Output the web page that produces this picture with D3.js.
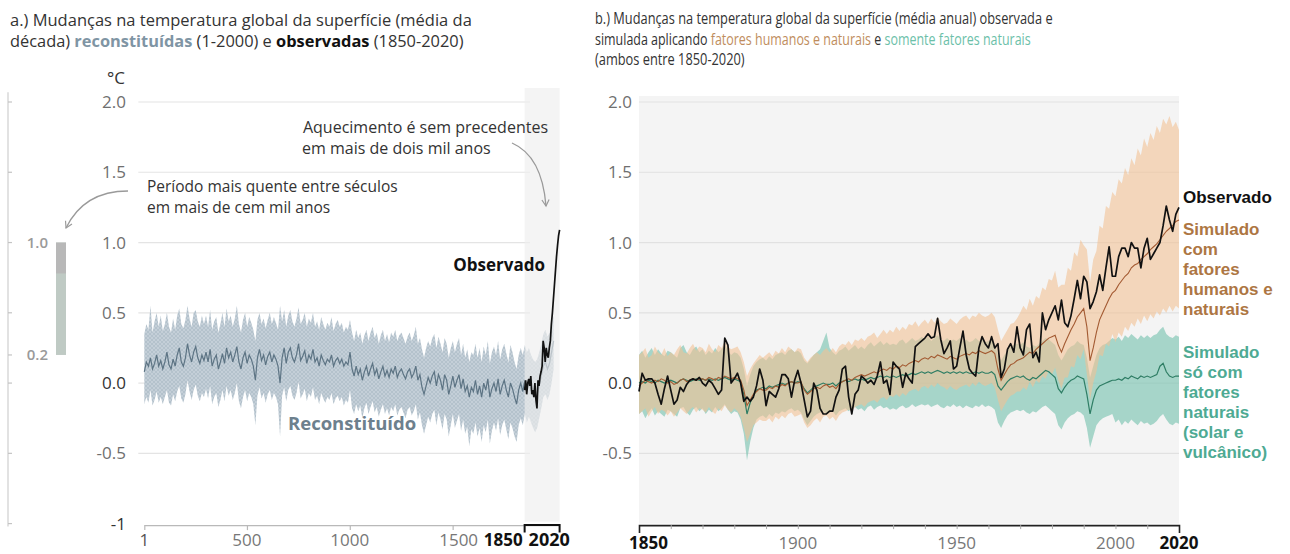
<!DOCTYPE html>
<html>
<head>
<meta charset="utf-8">
<script src="https://cdn.jsdelivr.net/npm/d3@7"></script>
<style>
  html, body { margin: 0; padding: 0; background: #fff; }
  svg { display: block; font-family: "Open Sans", "Noto Sans", sans-serif; }
</style>
</head>
<body>
<svg id="chart" width="1290" height="554"></svg>
<script>
// ---------- Panel a: reconstructed decadal means, years 1-2000 ----------
const reconYears = d3.range(1, 2000, 10);
const reconMean = [
  0.08,0.15,0.12,0.18,0.10,0.14,0.20,0.12,0.16,0.10,
  0.15,0.22,0.13,0.10,0.17,0.12,0.20,0.25,0.15,0.12,
  0.18,0.28,0.20,0.15,0.22,0.26,0.18,0.14,0.20,0.16,
  0.22,0.15,0.24,0.12,0.17,0.20,0.10,0.15,0.21,0.14,
  0.25,0.18,0.22,0.15,0.20,0.26,0.15,0.10,0.18,0.22,
  0.14,0.20,0.17,0.12,0.02,0.18,0.24,0.16,0.20,0.13,
  0.19,0.22,0.15,0.20,0.17,0.12,0.00,0.18,0.25,0.14,
  0.22,0.25,0.18,0.15,0.20,0.28,0.16,0.19,0.23,0.14,
  0.20,0.17,0.24,0.15,0.18,0.12,0.20,0.16,0.13,0.17,
  0.15,0.20,0.12,0.16,0.18,0.14,0.17,0.12,0.15,0.13,
  0.22,0.10,0.05,0.12,0.06,0.10,0.02,0.08,0.12,0.05,
  0.10,0.14,0.06,0.10,0.03,0.08,0.12,0.05,0.09,0.04,
  0.10,0.07,0.12,0.04,0.08,0.10,0.06,0.03,0.08,0.10,
  0.04,0.07,0.12,0.02,0.06,-0.03,-0.08,-0.02,0.04,0.00,
  0.05,0.08,-0.02,0.06,0.02,-0.05,0.06,0.02,-0.08,-0.02,
  0.05,-0.03,0.02,0.06,-0.04,0.03,-0.06,-0.02,-0.10,-0.03,
  -0.06,0.02,-0.08,-0.02,-0.10,0.00,-0.05,0.03,-0.10,-0.04,
  0.00,-0.06,0.03,-0.08,-0.02,0.02,-0.05,-0.10,0.00,-0.04,
  -0.10,-0.15,-0.05,0.00,-0.06,0.02,-0.04,0.00,-0.05,-0.08,
  -0.10,-0.08,-0.02,0.05,0.12,0.15,0.10,0.14,0.22,0.30
];
const reconUpper = [
  0.35,0.42,0.38,0.55,0.36,0.44,0.50,0.40,0.48,0.37,
  0.42,0.50,0.40,0.36,0.46,0.38,0.48,0.53,0.42,0.39,
  0.45,0.55,0.46,0.40,0.50,0.52,0.44,0.40,0.48,0.42,
  0.48,0.40,0.52,0.38,0.44,0.47,0.36,0.42,0.50,0.40,
  0.53,0.44,0.48,0.40,0.46,0.55,0.42,0.36,0.45,0.50,
  0.40,0.47,0.43,0.38,0.30,0.45,0.50,0.42,0.46,0.39,
  0.45,0.50,0.42,0.47,0.43,0.38,0.55,0.44,0.52,0.40,
  0.48,0.52,0.44,0.40,0.46,0.54,0.42,0.45,0.50,0.40,
  0.46,0.43,0.50,0.40,0.44,0.38,0.47,0.42,0.38,0.43,
  0.40,0.47,0.37,0.42,0.45,0.40,0.43,0.36,0.40,0.38,
  0.45,0.36,0.30,0.38,0.32,0.36,0.28,0.34,0.38,0.30,
  0.36,0.40,0.32,0.36,0.28,0.34,0.38,0.30,0.35,0.29,
  0.36,0.33,0.38,0.30,0.34,0.36,0.32,0.28,0.33,0.36,
  0.30,0.34,0.40,0.28,0.32,0.24,0.18,0.25,0.30,0.26,
  0.32,0.35,0.25,0.33,0.28,0.22,0.32,0.28,0.18,0.25,
  0.30,0.22,0.28,0.32,0.20,0.28,0.18,0.24,0.15,0.22,
  0.20,0.28,0.18,0.25,0.15,0.26,0.20,0.30,0.14,0.22,
  0.26,0.20,0.30,0.17,0.24,0.28,0.21,0.15,0.27,0.22,
  0.15,0.10,0.20,0.25,0.20,0.27,0.22,0.25,0.20,0.17,
  0.15,0.17,0.22,0.28,0.35,0.38,0.33,0.36,0.42,0.48
];
const reconLower = [
  -0.15,-0.10,-0.14,-0.05,-0.16,-0.12,-0.06,-0.14,-0.10,-0.15,
  -0.10,-0.05,-0.14,-0.16,-0.08,-0.13,-0.06,-0.02,-0.11,-0.14,
  -0.08,0.02,-0.06,-0.12,-0.05,-0.01,-0.09,-0.13,-0.07,-0.10,
  -0.04,-0.11,-0.02,-0.15,-0.10,-0.07,-0.17,-0.12,-0.05,-0.13,
  -0.02,-0.09,-0.05,-0.12,-0.07,0.00,-0.13,-0.18,-0.10,-0.05,
  -0.13,-0.07,-0.10,-0.15,-0.30,-0.09,-0.03,-0.11,-0.07,-0.14,
  -0.08,-0.05,-0.12,-0.07,-0.10,-0.15,-0.38,-0.09,-0.03,-0.13,
  -0.05,-0.02,-0.09,-0.12,-0.07,0.01,-0.11,-0.08,-0.04,-0.13,
  -0.07,-0.10,-0.03,-0.12,-0.09,-0.15,-0.07,-0.11,-0.14,-0.10,
  -0.12,-0.07,-0.15,-0.11,-0.09,-0.13,-0.10,-0.16,-0.12,-0.14,
  -0.05,-0.18,-0.22,-0.15,-0.20,-0.16,-0.25,-0.18,-0.14,-0.22,
  -0.17,-0.13,-0.21,-0.17,-0.24,-0.19,-0.15,-0.22,-0.18,-0.23,
  -0.17,-0.20,-0.15,-0.23,-0.19,-0.17,-0.21,-0.25,-0.19,-0.17,
  -0.23,-0.20,-0.15,-0.26,-0.21,-0.30,-0.36,-0.30,-0.24,-0.28,
  -0.22,-0.19,-0.30,-0.21,-0.26,-0.33,-0.22,-0.26,-0.38,-0.30,
  -0.22,-0.32,-0.27,-0.22,-0.34,-0.26,-0.36,-0.31,-0.45,-0.33,
  -0.36,-0.28,-0.38,-0.32,-0.42,-0.30,-0.35,-0.26,-0.43,-0.34,
  -0.28,-0.34,-0.25,-0.37,-0.30,-0.26,-0.33,-0.40,-0.28,-0.32,
  -0.38,-0.42,-0.30,-0.25,-0.30,-0.22,-0.28,-0.24,-0.28,-0.32,
  -0.35,-0.32,-0.25,-0.18,-0.10,-0.08,-0.12,-0.08,0.00,0.10
];

// Panel a: observed, five-year steps 1850-2020
const obsAYears = d3.range(1850, 2021, 5);
const obsA = [
  -0.05,0.02,-0.08,0.00,0.03,-0.02,0.05,-0.08,-0.05,-0.10,
  0.00,-0.12,-0.18,0.02,-0.02,0.05,0.08,0.12,0.30,0.25,
  0.15,0.25,0.20,0.18,0.25,0.30,0.42,0.50,0.60,0.70,
  0.80,0.90,0.98,1.05,1.09
];

// Side scale: warmest multi-century period in more than 100,000 years
const warmRange = [0.2, 1.0];

// ---------- Panel b: annual values 1850-2020 ----------
const yearsB = d3.range(1850, 2021);
const observed = [
  -0.06,0.07,0.02,0.03,0.03,0.00,-0.08,-0.15,-0.04,0.05,
  -0.05,-0.15,-0.12,-0.03,-0.06,-0.01,0.02,0.03,0.02,0.04,
  0.00,-0.02,0.02,0.00,-0.04,-0.08,-0.05,0.32,0.27,0.00,
  0.03,0.07,0.00,-0.13,-0.10,-0.13,-0.10,-0.02,0.10,0.02,
  -0.16,-0.06,-0.08,-0.10,-0.04,0.06,0.06,0.03,-0.10,0.02,
  0.09,0.00,-0.12,-0.24,-0.20,0.00,-0.05,-0.18,-0.22,-0.22,
  -0.20,-0.20,-0.10,-0.05,0.10,0.12,-0.10,-0.22,-0.08,-0.05,
  0.05,0.03,0.00,0.02,-0.01,0.05,0.15,0.00,0.02,-0.08,
  0.15,0.12,0.10,-0.03,0.07,0.03,0.00,0.26,0.28,0.30,
  0.32,0.35,0.32,0.33,0.46,0.31,0.21,0.25,0.30,0.10,
  0.12,0.25,0.37,0.20,0.10,0.07,0.05,0.25,0.33,0.28,
  0.25,0.33,0.25,0.28,0.04,0.10,0.24,0.28,0.22,0.40,
  0.25,0.20,0.38,0.42,0.18,0.22,0.15,0.50,0.38,0.45,
  0.50,0.55,0.45,0.59,0.43,0.40,0.48,0.60,0.73,0.60,
  0.76,0.72,0.53,0.58,0.65,0.77,0.66,0.82,0.97,0.76,
  0.76,0.90,0.96,0.96,0.90,1.00,0.96,0.96,0.82,0.96,
  1.03,0.88,0.92,0.96,1.00,1.12,1.26,1.16,1.08,1.20,
  1.25
];
const simHumanNatural = [
  -0.02,0.00,0.02,0.01,0.00,0.02,0.01,0.03,0.02,0.00,
  0.01,-0.01,0.00,0.02,0.03,0.01,0.02,0.03,0.02,0.03,
  0.03,0.02,0.04,0.03,0.02,0.04,0.03,0.05,0.04,0.03,
  0.04,0.03,0.02,-0.05,-0.16,-0.12,-0.08,-0.06,-0.04,-0.05,
  -0.05,-0.03,-0.04,-0.02,-0.03,-0.01,-0.02,0.00,0.01,0.00,
  0.00,0.01,-0.05,-0.08,-0.06,-0.04,-0.03,-0.04,-0.02,-0.01,
  -0.03,-0.02,-0.04,-0.01,0.01,0.02,0.03,0.02,0.04,0.05,
  0.06,0.05,0.06,0.07,0.08,0.07,0.09,0.10,0.09,0.11,
  0.10,0.12,0.11,0.13,0.12,0.14,0.15,0.16,0.15,0.17,
  0.18,0.17,0.19,0.18,0.20,0.19,0.18,0.17,0.19,0.18,
  0.17,0.19,0.20,0.21,0.20,0.22,0.21,0.23,0.22,0.21,
  0.22,0.23,0.21,0.10,0.02,0.06,0.10,0.13,0.14,0.16,
  0.17,0.18,0.20,0.22,0.21,0.24,0.26,0.28,0.30,0.32,
  0.33,0.34,0.27,0.22,0.28,0.33,0.38,0.42,0.47,0.50,
  0.53,0.40,0.16,0.25,0.36,0.45,0.50,0.55,0.60,0.64,
  0.66,0.70,0.73,0.76,0.78,0.82,0.84,0.85,0.88,0.90,
  0.92,0.95,0.97,0.99,1.02,1.05,1.08,1.10,1.12,1.15,
  1.16
];
const simHumanNaturalUpper = [
  0.20,0.22,0.25,0.18,0.20,0.26,0.22,0.20,0.25,0.19,
  0.22,0.20,0.24,0.27,0.22,0.21,0.25,0.28,0.23,0.26,
  0.25,0.22,0.28,0.24,0.22,0.27,0.25,0.30,0.26,0.24,
  0.25,0.26,0.22,0.15,0.05,0.10,0.14,0.17,0.20,0.18,
  0.20,0.22,0.19,0.23,0.21,0.25,0.22,0.26,0.24,0.22,
  0.25,0.24,0.18,0.15,0.18,0.20,0.22,0.20,0.23,0.25,
  0.22,0.25,0.22,0.26,0.28,0.27,0.30,0.27,0.31,0.30,
  0.32,0.30,0.33,0.34,0.36,0.32,0.35,0.38,0.35,0.38,
  0.36,0.40,0.37,0.40,0.38,0.42,0.41,0.44,0.40,0.43,
  0.45,0.42,0.46,0.43,0.47,0.44,0.42,0.43,0.46,0.44,
  0.42,0.45,0.47,0.48,0.45,0.48,0.47,0.50,0.48,0.47,
  0.48,0.50,0.47,0.38,0.30,0.34,0.38,0.42,0.43,0.46,
  0.50,0.55,0.52,0.60,0.55,0.62,0.60,0.68,0.66,0.74,
  0.73,0.80,0.68,0.70,0.70,0.82,0.80,0.93,0.90,1.02,
  0.98,0.95,0.72,0.88,0.94,1.12,1.10,1.26,1.24,1.36,
  1.33,1.45,1.42,1.53,1.48,1.60,1.55,1.67,1.62,1.74,
  1.68,1.78,1.73,1.83,1.78,1.88,1.84,1.90,1.82,1.86,
  1.80
];
const simHumanNaturalLower = [
  -0.22,-0.20,-0.18,-0.24,-0.20,-0.17,-0.22,-0.19,-0.20,-0.23,
  -0.20,-0.24,-0.21,-0.18,-0.20,-0.22,-0.19,-0.17,-0.21,-0.18,
  -0.19,-0.21,-0.17,-0.20,-0.22,-0.18,-0.20,-0.16,-0.19,-0.21,
  -0.18,-0.20,-0.24,-0.32,-0.42,-0.36,-0.30,-0.28,-0.26,-0.27,
  -0.27,-0.25,-0.28,-0.24,-0.26,-0.23,-0.25,-0.22,-0.21,-0.24,
  -0.23,-0.22,-0.28,-0.32,-0.30,-0.27,-0.25,-0.28,-0.24,-0.23,
  -0.26,-0.24,-0.27,-0.23,-0.21,-0.20,-0.19,-0.20,-0.17,-0.16,
  -0.15,-0.17,-0.14,-0.13,-0.12,-0.14,-0.11,-0.10,-0.12,-0.09,
  -0.10,-0.08,-0.10,-0.07,-0.09,-0.06,-0.05,-0.04,-0.06,-0.03,
  -0.02,-0.04,-0.01,-0.03,0.00,-0.02,-0.03,-0.05,-0.02,-0.04,
  -0.05,-0.03,-0.02,-0.01,-0.03,0.00,-0.02,0.01,-0.01,-0.02,
  -0.01,0.00,-0.03,-0.12,-0.20,-0.16,-0.12,-0.09,-0.08,-0.06,
  -0.06,-0.03,-0.05,0.01,-0.03,0.02,0.00,0.05,0.03,0.09,
  0.06,0.11,0.02,-0.04,0.04,0.04,0.12,0.11,0.20,0.17,
  0.24,0.06,-0.12,0.00,0.08,0.20,0.19,0.28,0.26,0.35,
  0.29,0.36,0.33,0.40,0.37,0.43,0.40,0.46,0.42,0.48,
  0.44,0.49,0.46,0.51,0.48,0.53,0.50,0.55,0.51,0.55,
  0.53
];
const simNatural = [
  0.00,0.01,0.00,0.02,0.01,0.00,0.02,0.01,0.00,0.01,
  0.02,0.01,0.00,0.02,0.03,0.02,0.01,0.02,0.03,0.02,
  0.03,0.02,0.03,0.02,0.03,0.02,0.03,0.04,0.03,0.02,
  0.03,0.02,0.01,-0.08,-0.22,-0.14,-0.09,-0.05,-0.04,-0.03,
  -0.04,-0.02,-0.03,-0.02,-0.01,0.00,-0.01,0.00,0.01,0.00,
  0.01,0.00,-0.04,-0.07,-0.05,-0.03,-0.02,-0.01,0.00,-0.01,
  -0.01,0.00,-0.02,0.00,0.01,0.02,0.01,0.02,0.03,0.02,
  0.03,0.02,0.03,0.04,0.03,0.04,0.05,0.04,0.05,0.04,
  0.05,0.04,0.05,0.06,0.05,0.06,0.07,0.06,0.07,0.08,
  0.07,0.08,0.07,0.08,0.09,0.08,0.07,0.08,0.07,0.08,
  0.07,0.08,0.07,0.08,0.07,0.07,0.08,0.07,0.08,0.07,
  0.07,0.08,0.06,-0.02,-0.05,-0.02,0.01,0.03,0.04,0.05,
  0.04,0.05,0.03,0.02,0.04,0.03,0.05,0.07,0.09,0.08,
  0.06,0.04,-0.04,-0.07,-0.03,0.00,0.02,0.03,0.05,0.04,
  0.03,-0.08,-0.22,-0.12,-0.05,-0.02,-0.01,0.00,0.01,0.02,
  0.02,0.03,0.02,0.04,0.03,0.05,0.04,0.03,0.05,0.04,
  0.05,0.04,0.05,0.06,0.12,0.14,0.08,0.05,0.04,0.05,
  0.05
];
const simNaturalUpper = [
  0.20,0.23,0.18,0.22,0.25,0.20,0.24,0.21,0.19,0.23,
  0.22,0.20,0.18,0.25,0.27,0.22,0.20,0.24,0.26,0.22,
  0.24,0.20,0.23,0.21,0.25,0.22,0.24,0.27,0.23,0.20,
  0.22,0.21,0.18,0.10,-0.02,0.06,0.12,0.15,0.17,0.18,
  0.16,0.19,0.17,0.20,0.21,0.22,0.20,0.23,0.24,0.22,
  0.23,0.21,0.16,0.14,0.17,0.20,0.22,0.24,0.30,0.36,
  0.25,0.22,0.20,0.23,0.24,0.26,0.23,0.25,0.27,0.24,
  0.26,0.24,0.27,0.29,0.26,0.28,0.30,0.27,0.29,0.27,
  0.28,0.27,0.30,0.31,0.28,0.30,0.32,0.30,0.31,0.33,
  0.31,0.33,0.30,0.32,0.34,0.31,0.30,0.32,0.30,0.31,
  0.30,0.32,0.30,0.31,0.29,0.30,0.32,0.30,0.31,0.29,
  0.30,0.31,0.28,0.20,0.16,0.20,0.23,0.26,0.27,0.28,
  0.27,0.29,0.26,0.25,0.27,0.26,0.28,0.30,0.32,0.31,
  0.29,0.27,0.20,0.16,0.20,0.24,0.26,0.27,0.30,0.28,
  0.27,0.18,0.04,0.12,0.20,0.25,0.27,0.28,0.30,0.32,
  0.31,0.33,0.30,0.34,0.32,0.35,0.33,0.31,0.34,0.32,
  0.34,0.32,0.34,0.35,0.38,0.40,0.35,0.33,0.32,0.34,
  0.33
];
const simNaturalLower = [
  -0.22,-0.20,-0.25,-0.21,-0.18,-0.23,-0.20,-0.22,-0.24,-0.19,
  -0.20,-0.22,-0.24,-0.18,-0.17,-0.21,-0.23,-0.19,-0.17,-0.20,
  -0.18,-0.22,-0.19,-0.21,-0.17,-0.20,-0.18,-0.15,-0.19,-0.22,
  -0.20,-0.21,-0.26,-0.36,-0.55,-0.42,-0.32,-0.26,-0.24,-0.23,
  -0.25,-0.22,-0.24,-0.21,-0.22,-0.20,-0.21,-0.19,-0.18,-0.20,
  -0.19,-0.21,-0.26,-0.30,-0.27,-0.24,-0.22,-0.21,-0.20,-0.22,
  -0.21,-0.20,-0.23,-0.20,-0.19,-0.18,-0.20,-0.18,-0.17,-0.19,
  -0.18,-0.20,-0.17,-0.16,-0.19,-0.17,-0.16,-0.18,-0.17,-0.19,
  -0.18,-0.19,-0.17,-0.16,-0.18,-0.17,-0.15,-0.17,-0.16,-0.15,
  -0.16,-0.15,-0.17,-0.16,-0.15,-0.17,-0.18,-0.16,-0.17,-0.15,
  -0.17,-0.16,-0.18,-0.16,-0.17,-0.18,-0.16,-0.17,-0.15,-0.17,
  -0.16,-0.17,-0.19,-0.28,-0.32,-0.27,-0.23,-0.21,-0.20,-0.19,
  -0.20,-0.19,-0.21,-0.22,-0.20,-0.21,-0.19,-0.17,-0.16,-0.18,
  -0.20,-0.22,-0.30,-0.33,-0.28,-0.25,-0.23,-0.22,-0.20,-0.21,
  -0.23,-0.32,-0.46,-0.38,-0.30,-0.27,-0.25,-0.24,-0.23,-0.22,
  -0.28,-0.26,-0.30,-0.27,-0.29,-0.26,-0.28,-0.30,-0.27,-0.29,
  -0.28,-0.30,-0.29,-0.27,-0.24,-0.22,-0.26,-0.29,-0.30,-0.28,
  -0.29
];

// Tick values and labels
const yTicks = [2.0, 1.5, 1.0, 0.5, 0.0, -0.5, -1];
const yTickLabels = ["2.0", "1.5", "1.0", "0.5", "0.0", "-0.5", "-1"];
const gridValues = [2.0, 1.5, 1.0, 0.5, 0.0, -0.5];
const xTicksA = [1, 500, 1000, 1500];
const xTicksB = [1900, 1950, 2000];
const sideTicks = [2.0, 1.5, 1.0, 0.5, 0.2, 0.0, -0.5, -1];

// ---------- Scales ----------
const svg = d3.select("#chart");
const y = d3.scaleLinear().domain([-1, 2]).range([523.6, 102]);
const xA = d3.scaleLinear().domain([1, 2020]).range([144.3, 559.6]);
const xB = d3.scaleLinear().domain([1850, 2020]).range([639, 1179]);

const defs = svg.append("defs");
const hatch = defs.append("pattern").attr("id", "hatch")
  .attr("patternUnits", "userSpaceOnUse").attr("width", 4).attr("height", 4);
hatch.append("rect").attr("width", 4).attr("height", 4).attr("fill", "#c4cfd8");
hatch.append("path").attr("d", "M0,4 L4,0 M0,0 L4,4")
  .attr("stroke", "#a9b8c4").attr("stroke-width", 0.6);

const marker = defs.append("marker").attr("id", "arrow")
  .attr("viewBox", "0 0 10 10").attr("refX", 8).attr("refY", 5)
  .attr("markerWidth", 9).attr("markerHeight", 9).attr("orient", "auto-start-reverse")
  .attr("markerUnits", "userSpaceOnUse");
marker.append("path").attr("d", "M1,1 L8,5 L1,9").attr("fill", "none")
  .attr("stroke", "#9a9a9a").attr("stroke-width", 1.3);

// Scales a title line to a given width
function fitWidth(t, x0, target) {
  const w = t.node().getBBox().width;
  t.attr("transform", `translate(${x0},0) scale(${target / w},1) translate(${-x0},0)`);
}
function multiText(x, yy, parts, size) {
  const t = svg.append("text").attr("x", x).attr("y", yy)
    .attr("font-size", size).attr("fill", "#333");
  parts.forEach(p => t.append("tspan").text(p[0])
    .attr("fill", p[1] || "#333").attr("font-weight", p[2] || 400));
  return t;
}
// Stacked legend lines, one text element per line
function stackedText(parent, x, y0, lines, color, size, lh) {
  parent.selectAll(null).data(lines).join("text")
    .attr("x", x).attr("y", (d, i) => y0 + i * lh)
    .attr("font-family", "'Liberation Sans', Arial, sans-serif")
    .attr("font-size", size).attr("font-weight", 700).attr("fill", color)
    .text(d => d);
}

// ---------- Titles ----------
fitWidth(multiText(10, 26, [["a.) Mudanças na temperatura global da superfície (média da"]], 16), 10, 462);
fitWidth(multiText(10, 47, [["década) "], ["reconstituídas", "#7f95a4", 700], [" (1-2000) e "],
  ["observadas", "#111", 700], [" (1850-2020)"]], 16), 10, 454);
fitWidth(multiText(595, 24, [["b.) Mudanças na temperatura global da superfície (média anual) observada e"]], 16), 595, 458);
fitWidth(multiText(595, 45, [["simulada aplicando "], ["fatores humanos e naturais", "#c08d5d"], [" e "],
  ["somente fatores naturais", "#6cbfa9"]], 16), 595, 436);
fitWidth(multiText(595, 65, [["(ambos entre 1850-2020)"]], 16), 595, 150);

// ---------- Side scale ----------
const side = svg.append("g");
side.append("line").attr("x1", 8).attr("x2", 8)
  .attr("y1", y(2.07)).attr("y2", y(-1.02)).attr("stroke", "#cfcfcf").attr("stroke-width", 1.2);
side.selectAll(".st").data(sideTicks).join("line")
  .attr("x1", 8).attr("x2", 12).attr("y1", d => y(d)).attr("y2", d => y(d))
  .attr("stroke", "#c4c4c4").attr("stroke-width", 1.2);
side.selectAll(".sl").data(warmRange).join("text")
  .attr("x", 48).attr("y", d => y(d) + 5).attr("text-anchor", "end")
  .attr("font-size", 15).attr("fill", "#9a9a9a").attr("font-weight", 600)
  .text(d => d3.format(".1f")(d));
side.append("rect").attr("x", 56).attr("width", 10)
  .attr("y", y(warmRange[1])).attr("height", y(warmRange[0]) - y(warmRange[1]))
  .attr("fill", "#bfcac4");
side.append("rect").attr("x", 56).attr("width", 10)
  .attr("y", y(warmRange[1])).attr("height", y(0.78) - y(warmRange[1]))
  .attr("fill", "#b8b8b8");

// ---------- Panel a ----------
const gA = svg.append("g");
gA.selectAll(".grid").data(gridValues).join("line")
  .attr("x1", xA(1) - 6).attr("x2", 530).attr("y1", d => y(d)).attr("y2", d => y(d))
  .attr("stroke", "#e4e4e4").attr("stroke-width", 1.2);

gA.selectAll(".yl").data(yTicks).join("text")
  .attr("x", 126).attr("y", d => y(d) + 6).attr("text-anchor", "end")
  .attr("font-size", 17).attr("fill", d => d === 0 || d === -1 ? "#333" : "#6f6f6f")
  .text((d, i) => yTickLabels[i]);
gA.append("text").attr("x", 125).attr("y", 84).attr("text-anchor", "end")
  .attr("font-size", 17).attr("fill", "#333").text("°C");

const bandA = d3.area().x((d, i) => xA(reconYears[i]))
  .y0((d, i) => y(reconLower[i])).y1((d, i) => y(reconUpper[i])).curve(d3.curveLinear);
gA.append("path").datum(reconMean).attr("d", bandA).attr("fill", "url(#hatch)");
gA.append("path").datum(reconMean)
  .attr("d", d3.line().x((d, i) => xA(reconYears[i])).y(d => y(d)))
  .attr("fill", "none").attr("stroke", "#5d7484").attr("stroke-width", 1.2);

// faded column over the instrumental period
gA.append("rect").attr("x", xA(1850)).attr("width", xA(2020) - xA(1850))
  .attr("y", 88).attr("height", y(-1) - 88 - 2).attr("fill", "#eeeeee").attr("opacity", 0.65);

gA.append("path").datum(obsA)
  .attr("d", d3.line().x((d, i) => xA(obsAYears[i])).y(d => y(d)))
  .attr("fill", "none").attr("stroke", "#111").attr("stroke-width", 1.7);

// x axis
const axA = gA.append("g").attr("transform", `translate(0,${y(-1) + 1.5})`)
  .call(d3.axisBottom(xA).tickValues(xTicksA).tickSize(5).tickSizeOuter(0).tickFormat(""));
axA.select(".domain").attr("stroke", "#b9b9b9").attr("stroke-width", 1.2);
axA.selectAll(".tick line").attr("stroke", "#b9b9b9").attr("stroke-width", 1.2);
gA.append("path")
  .attr("d", `M${xA(1850)},${y(-1) + 9}V${y(-1) + 1.5}H${xA(2020)}V${y(-1) + 9}`)
  .attr("fill", "none").attr("stroke", "#111").attr("stroke-width", 2);
gA.selectAll(".xl").data(xTicksA).join("text")
  .attr("x", d => xA(d) + (d === 1500 ? 6 : 0)).attr("y", 546).attr("text-anchor", "middle")
  .attr("font-size", 17).attr("fill", d => d === 1 ? "#555" : "#777").text(d => d);
gA.append("text").attr("x", xA(1850) - 2).attr("y", 546).attr("text-anchor", "end")
  .attr("font-size", 17).attr("font-weight", 700).attr("fill", "#111").text("1850");
gA.append("text").attr("x", xA(2020) - 31).attr("y", 546).attr("text-anchor", "start")
  .attr("font-size", 18).attr("font-weight", 700).attr("fill", "#111").text("2020");

// annotations
gA.append("text").attr("x", 147).attr("y", 192).attr("font-size", 15.5).attr("fill", "#333")
  .text("Período mais quente entre séculos");
gA.append("text").attr("x", 147).attr("y", 213).attr("font-size", 15.5).attr("fill", "#333")
  .text("em mais de cem mil anos");
gA.append("text").attr("x", 548).attr("y", 133).attr("font-size", 16).attr("fill", "#333")
  .attr("text-anchor", "end").text("Aquecimento é sem precedentes");
gA.append("text").attr("x", 548 - 246).attr("y", 154).attr("font-size", 16).attr("fill", "#333")
  .text("em mais de dois mil anos");
gA.append("path").attr("d", "M128,191 Q84,191 66,228")
  .attr("fill", "none").attr("stroke", "#9a9a9a").attr("stroke-width", 1.3).attr("marker-end", "url(#arrow)");
gA.append("path").attr("d", "M512,143 Q542,156 546,206")
  .attr("fill", "none").attr("stroke", "#9a9a9a").attr("stroke-width", 1.3).attr("marker-end", "url(#arrow)");
gA.append("text").attr("x", 545).attr("y", 271).attr("text-anchor", "end")
  .attr("font-size", 17).attr("font-weight", 700).attr("fill", "#111").text("Observado");
gA.append("text").attr("x", 288).attr("y", 430)
  .attr("font-size", 18.5).attr("font-weight", 700).attr("fill", "#6d808d").text("Reconstituído");

// ---------- Panel b ----------
const gB = svg.append("g");
gB.append("rect").attr("x", xB(1850)).attr("width", xB(2020) - xB(1850))
  .attr("y", 96).attr("height", y(-1) - 96).attr("fill", "#f4f4f4");
gB.selectAll(".grid").data(gridValues).join("line")
  .attr("x1", xB(1850)).attr("x2", xB(2020)).attr("y1", d => y(d)).attr("y2", d => y(d))
  .attr("stroke", "#e1e1e1").attr("stroke-width", 1.2);
gB.selectAll(".yl").data(gridValues).join("text")
  .attr("x", 632).attr("y", d => y(d) + 6).attr("text-anchor", "end")
  .attr("font-size", 17).attr("fill", d => d === 0 ? "#333" : "#6f6f6f")
  .text((d, i) => yTickLabels[i]);

const areaB = (lo, hi) => d3.area().x((d, i) => xB(yearsB[i]))
  .y0((d, i) => y(lo[i])).y1((d, i) => y(hi[i]));
gB.append("path").datum(yearsB).attr("d", areaB(simNaturalLower, simNaturalUpper))
  .attr("fill", "#80c6b4").attr("opacity", 0.68);
gB.append("path").datum(yearsB).attr("d", areaB(simHumanNaturalLower, simHumanNaturalUpper))
  .attr("fill", "#f1c294").attr("opacity", 0.6);

const lineB = d3.line().x((d, i) => xB(yearsB[i])).y(d => y(d));
gB.append("path").datum(simNatural).attr("d", lineB)
  .attr("fill", "none").attr("stroke", "#2e7d64").attr("stroke-width", 1.2);
gB.append("path").datum(simHumanNatural).attr("d", lineB)
  .attr("fill", "none").attr("stroke", "#a35a32").attr("stroke-width", 1.1);
gB.append("path").datum(observed).attr("d", lineB)
  .attr("fill", "none").attr("stroke", "#111").attr("stroke-width", 1.7)
  .attr("stroke-linejoin", "round");

const axB = gB.append("g").attr("transform", `translate(0,${y(-1) + 1.5})`)
  .call(d3.axisBottom(xB).tickValues(d3.range(1860, 2020, 10)).tickSize(4)
    .tickSizeOuter(8).tickFormat(""));
axB.select(".domain").attr("stroke", "#222").attr("stroke-width", 1.6);
axB.selectAll(".tick line").attr("stroke", "#aaa").attr("stroke-width", 1);
gB.selectAll(".xl").data(xTicksB).join("text")
  .attr("x", d => xB(d)).attr("y", 549).attr("text-anchor", "middle")
  .attr("font-size", 17).attr("fill", "#777").text(d => d);
gB.append("text").attr("x", 629).attr("y", 549).attr("text-anchor", "start")
  .attr("font-size", 17).attr("font-weight", 700).attr("fill", "#111").text("1850");
gB.append("text").attr("x", xB(2020)).attr("y", 549).attr("text-anchor", "middle")
  .attr("font-size", 17).attr("font-weight", 700).attr("fill", "#111").text("2020");

// legend labels at the right edge
const legendHN = ["Simulado", "com", "fatores", "humanos e", "naturais"];
const legendNat = ["Simulado", "só com", "fatores", "naturais", "(solar e", "vulcânico)"];
stackedText(gB, 1183, 203, ["Observado"], "#111", 17, 20);
stackedText(gB, 1183, 235, legendHN, "#ad7643", 17, 20);
stackedText(gB, 1183, 358, legendNat, "#4eaa93", 17, 20);
</script>
</body>
</html>
